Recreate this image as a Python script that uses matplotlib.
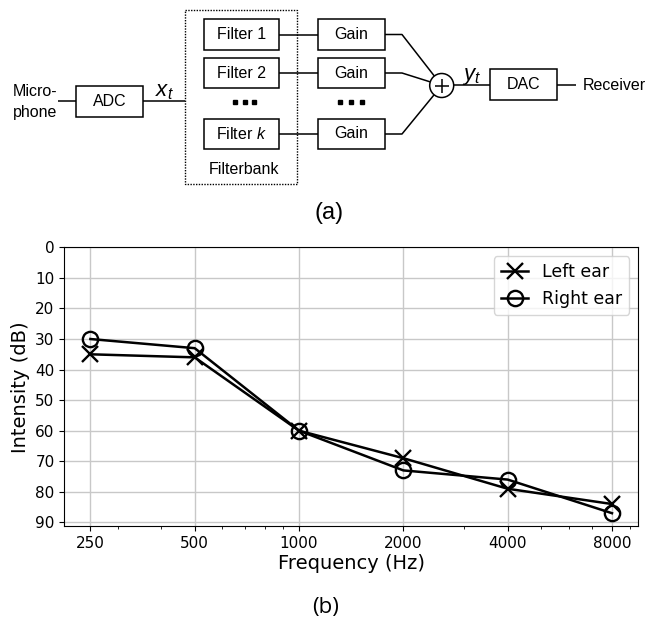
import matplotlib
matplotlib.use("Agg")
import matplotlib.pyplot as plt
import numpy as np
from matplotlib.patches import Rectangle, Circle
from matplotlib.ticker import FixedLocator, FixedFormatter, NullFormatter

plt.rcParams["mathtext.fontset"] = "custom"
plt.rcParams["mathtext.it"] = "Liberation Sans:italic"
plt.rcParams["mathtext.rm"] = "Liberation Sans"

# audiogram data
freqs = [250, 500, 1000, 2000, 4000, 8000]
freq_labels = ["250", "500", "1000", "2000", "4000", "8000"]
left_ear = [35, 36, 60, 69, 79, 84]
right_ear = [30, 33, 60, 73, 76, 87]
db_ticks = [0, 10, 20, 30, 40, 50, 60, 70, 80, 90]

fig = plt.figure(figsize=(6.53, 6.19), dpi=100)

# ---- block diagram (a), drawn in pixel coordinates ----
dax = fig.add_axes([0, 0, 1, 1])
dax.set_xlim(0, 653)
dax.set_ylim(619, 0)
dax.axis("off")

lw = 1.1
font = "Liberation Sans"


def box(x0, y0, x1, y1, label):
    dax.add_patch(Rectangle((x0, y0), x1 - x0, y1 - y0, fill=False, ec="black", lw=lw))
    dax.text((x0 + x1) / 2, (y0 + y1) / 2, label, ha="center", va="center",
             fontsize=11.5, family=font)


def line(xs, ys):
    dax.plot(xs, ys, color="black", lw=lw, solid_capstyle="butt")


dax.text(13, 91, "Micro-", ha="left", va="center", fontsize=11.5, family=font)
dax.text(13, 113, "phone", ha="left", va="center", fontsize=11.5, family=font)
line([58, 76], [101, 101])
box(76, 86, 143, 117, "ADC")
line([143, 185], [101, 101])
dax.text(164, 96, r"$x_t$", ha="center", va="baseline", fontsize=16)

# filterbank
dax.add_patch(Rectangle((185, 10), 112, 174, fill=False, ec="black", lw=1.0, ls=(0, (1, 1))))
rows = [(19, 50, "Filter 1"), (58, 88, "Filter 2"), (119, 149, r"Filter $k$")]
circ_c = (441.7, 85.5)
r = 12
for y0, y1, lab in rows:
    yc = (y0 + y1) / 2
    box(204, y0, 279, y1, lab)
    line([279, 318], [yc, yc])
    box(318, y0, 385, y1, "Gain")
    dx, dy = circ_c[0] - 402, circ_c[1] - yc
    d = np.hypot(dx, dy)
    line([385, 402, circ_c[0] - r * dx / d], [yc, yc, circ_c[1] - r * dy / d])

for xs in ([235, 245, 254], [340, 351, 362]):
    dax.plot(xs, [102] * 3, "s", color="black", ms=3)

dax.text(244, 170, "Filterbank", ha="center", va="center", fontsize=11.5, family=font)

dax.add_patch(Circle(circ_c, r, fill=False, ec="black", lw=lw))
line([circ_c[0] - 7, circ_c[0] + 7], [circ_c[1], circ_c[1]])
line([circ_c[0], circ_c[0]], [circ_c[1] - 7, circ_c[1] + 7])
line([circ_c[0] + r, 490], [84.5, 84.5])
dax.text(472, 80, r"$y_t$", ha="center", va="baseline", fontsize=16)
box(490, 69, 557, 100, "DAC")
line([557, 576], [84.5, 84.5])
dax.text(583, 85, "Receiver", ha="left", va="center", fontsize=11.5, family=font)

dax.text(329, 213, "(a)", ha="center", va="center", fontsize=17, family=font)
dax.text(326, 607, "(b)", ha="center", va="center", fontsize=16, family="Open Sans")

# ---- audiogram (b) ----
ax = fig.add_axes([0.0985, 0.1502, 0.8786, 0.4502])
ax.plot(freqs, left_ear, color="black", lw=1.8, marker="x", ms=12, mew=1.7,
        label="Left ear")
ax.plot(freqs, right_ear, color="black", lw=1.8, marker="o", ms=11, mew=1.7,
        fillstyle="none", label="Right ear")
ax.set_xscale("log")
ax.xaxis.set_major_locator(FixedLocator(freqs))
ax.xaxis.set_major_formatter(FixedFormatter(freq_labels))
ax.xaxis.set_minor_formatter(NullFormatter())
ax.set_yticks(db_ticks)
ax.set_ylim(91.2, 0)
ax.tick_params(labelsize=11)
ax.grid(True, color="#c8c8c8", lw=1)
ax.set_axisbelow(True)
ax.set_xlabel("Frequency (Hz)", fontsize=14, labelpad=2)
ax.set_ylabel("Intensity (dB)", fontsize=14, labelpad=4)
ax.legend(loc="upper right", fontsize=12.5, handlelength=1.6, borderaxespad=0.5)

fig.savefig("out.png", dpi=100)
